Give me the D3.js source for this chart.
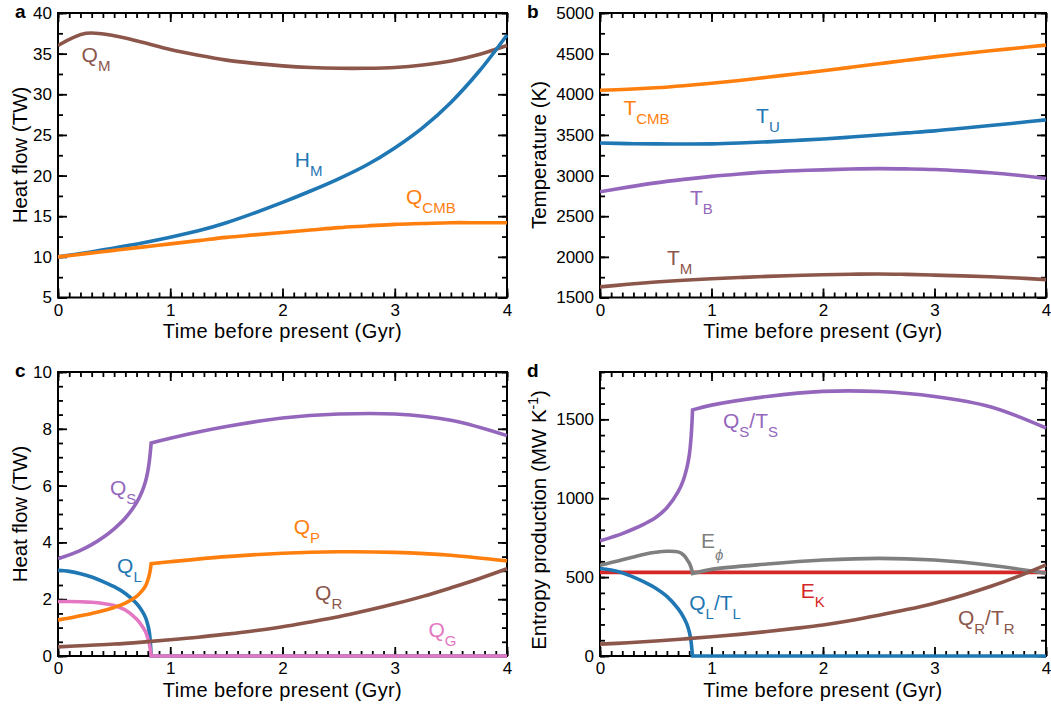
<!DOCTYPE html>
<html>
<head>
<meta charset="utf-8">
<title>Thermal evolution</title>
<script src="https://cdn.jsdelivr.net/npm/d3@7/dist/d3.min.js"></script>
<style>
  body { margin: 0; background: #fff; }
  svg { font-family: "Liberation Sans", Arial, Helvetica, sans-serif; }
</style>
</head>
<body>
<script>
// ---- data ----
var tFull = [0, 0.25, 0.5, 0.75, 1, 1.25, 1.5, 1.75, 2, 2.25, 2.5, 2.75, 3, 3.25, 3.5, 3.75, 4];

// panel a: heat flow (TW)
var qM   = [36.0, 37.5, 37.2, 36.4, 35.5, 34.8, 34.2, 33.8, 33.5, 33.3, 33.2, 33.2, 33.3, 33.6, 34.1, 34.9, 36.0];
var hM   = [10.0, 10.5, 11.1, 11.7, 12.4, 13.2, 14.2, 15.4, 16.7, 18.1, 19.6, 21.3, 23.4, 25.9, 29.0, 32.8, 37.3];
var qCMB = [10.0, 10.4, 10.8, 11.2, 11.6, 12.0, 12.4, 12.7, 13.0, 13.3, 13.6, 13.8, 14.0, 14.1, 14.2, 14.2, 14.2];

// panel b: temperature (K)
var tCMB = [4050, 4062, 4080, 4105, 4135, 4170, 4210, 4250, 4290, 4332, 4375, 4418, 4460, 4498, 4535, 4570, 4605];
var tU   = [3400, 3393, 3390, 3388, 3390, 3400, 3415, 3432, 3450, 3474, 3500, 3525, 3550, 3582, 3615, 3650, 3685];
var tB   = [2800, 2858, 2910, 2953, 2990, 3020, 3045, 3060, 3070, 3080, 3085, 3082, 3075, 3058, 3035, 3003, 2965];
var tM   = [1630, 1662, 1690, 1712, 1730, 1746, 1760, 1771, 1780, 1786, 1790, 1784, 1775, 1766, 1755, 1740, 1720];

// panels c, d: before / after inner-core nucleation (~0.83 Gyr)
var tPre  = [0, 0.1, 0.2, 0.3, 0.4, 0.5, 0.6, 0.7, 0.75, 0.78, 0.8, 0.815, 0.83];
var tPost = [0.83, 1, 1.5, 2, 2.5, 3, 3.5, 4];

// panel c: heat flow (TW)
var qSPre  = [3.42, 3.56, 3.72, 3.92, 4.17, 4.48, 4.86, 5.4, 5.8, 6.15, 6.5, 6.9, 7.5];
var qSPost = [7.5, 7.67, 8.08, 8.38, 8.52, 8.52, 8.3, 7.76];
var qLPre  = [3.02, 2.98, 2.9, 2.78, 2.62, 2.44, 2.2, 1.85, 1.58, 1.35, 1.1, 0.8, 0];
var qLPost = [0, 0, 0, 0, 0, 0, 0, 0];
var qGPre  = [1.92, 1.92, 1.91, 1.89, 1.85, 1.78, 1.62, 1.3, 1.05, 0.85, 0.62, 0.4, 0];
var qGPost = [0, 0, 0, 0, 0, 0, 0, 0];
var qPPre  = [1.27, 1.34, 1.42, 1.5, 1.59, 1.71, 1.86, 2.1, 2.3, 2.47, 2.67, 2.88, 3.25];
var qPPost = [3.25, 3.32, 3.5, 3.62, 3.67, 3.65, 3.55, 3.35];
var qR     = [0.32, 0.37, 0.42, 0.49, 0.57, 0.66, 0.77, 0.89, 1.03, 1.2, 1.38, 1.6, 1.84, 2.1, 2.4, 2.72, 3.07];

// panel d: entropy production (MW/K)
var sSPre  = [730, 752, 776, 805, 838, 878, 940, 1040, 1120, 1195, 1270, 1370, 1560];
var sSPost = [1560, 1590, 1645, 1677, 1676, 1645, 1580, 1445];
var ePhiPre  = [575, 592, 610, 628, 645, 657, 664, 660, 640, 612, 590, 565, 523];
var ePhiPost = [523, 549, 583, 608, 619, 608, 575, 524];
var sLPre  = [555, 545, 527, 500, 468, 430, 378, 300, 245, 200, 155, 100, 0];
var sLPost = [0, 0, 0, 0, 0, 0, 0, 0];
var eK     = [530, 530, 530, 530, 530, 530, 530, 530, 530, 530, 530, 530, 530, 530, 530, 530, 530];
var sR     = [75, 84, 95, 108, 122, 137, 155, 175, 197, 225, 258, 294, 335, 384, 440, 505, 578];

var xTicks = [0, 1, 2, 3, 4];

var c = {blue: "#1f77b4", orange: "#ff7f0e", brown: "#8c564b", purple: "#9467bd",
         pink: "#e377c2", gray: "#7f7f7f", red: "#d62728"};

var svg = d3.select("body").append("svg").attr("width", 1051).attr("height", 706);

function range(a, b, s) { return d3.range(a, b + s / 2, s); }

function panel(o) {
  var x = d3.scaleLinear().domain([0, 4]).range([o.left, o.right]);
  var y = d3.scaleLinear().domain(o.ydom).range([o.bottom, o.top]);
  var g = svg.append("g");
  var minorX = range(0, 4, 0.1), minorY = range(o.ydom[0], o.ydom[1], o.yminor);

  function ax(gen, tr, vals, size, fmt, pad) {
    var a = g.append("g").attr("transform", tr)
      .call(gen.tickValues(vals).tickSize(size).tickPadding(pad || 0).tickFormat(fmt || ""));
    a.select(".domain").remove();
    a.selectAll("line").attr("stroke-width", 1.8);
    a.selectAll("text").attr("font-size", 17).attr("fill", "#000")
      .attr("font-family", "Liberation Sans, Arial, sans-serif");
    return a;
  }
  var bt = "translate(0," + o.bottom + ")", tp = "translate(0," + o.top + ")";
  var lt = "translate(" + o.left + ",0)", rt = "translate(" + o.right + ",0)";
  ax(d3.axisBottom(x), bt, minorX, -5);
  ax(d3.axisTop(x), tp, minorX, -5);
  ax(d3.axisLeft(y), lt, minorY, -5);
  ax(d3.axisRight(y), rt, minorY, -5);
  ax(d3.axisBottom(x), bt, xTicks, -9, d3.format("d"), 6);
  ax(d3.axisTop(x), tp, xTicks, -9);
  ax(d3.axisLeft(y), lt, o.yticks, -9, d3.format("d"), 7).selectAll("text").attr("dx", 1);
  ax(d3.axisRight(y), rt, o.yticks, -9);

  g.append("rect").attr("x", o.left).attr("y", o.top)
    .attr("width", o.right - o.left).attr("height", o.bottom - o.top)
    .attr("fill", "none").attr("stroke", "#000").attr("stroke-width", 2);

  var line = d3.line().x(function (d) { return x(d[0]); }).y(function (d) { return y(d[1]); })
    .curve(d3.curveCatmullRom.alpha(0.5));
  var clip = "clip" + o.name;
  svg.append("clipPath").attr("id", clip).append("rect")
    .attr("x", o.left).attr("y", o.top - 3).attr("width", o.right - o.left + 3).attr("height", o.bottom - o.top + 6);
  var lines = g.append("g").attr("clip-path", "url(#" + clip + ")");

  o.series.forEach(function (s) {
    var d = "";
    s.parts.forEach(function (p, i) {
      var seg = line(p[0].map(function (t, k) { return [t, p[1][k]]; }));
      d += i === 0 ? seg : "L" + seg.slice(1);
    });
    lines.append("path").attr("d", d).attr("fill", "none").attr("stroke", s.color)
      .attr("stroke-width", 3.6).attr("stroke-linejoin", "miter");
  });

  o.labels.forEach(function (l) {
    var t = g.append("text").attr("x", x(l.at[0])).attr("y", y(l.at[1]))
      .attr("fill", l.color).attr("font-size", 21);
    var off = 0;
    l.parts.forEach(function (p) {
      var want = p.sub ? (p.dy || 9) : 0;
      var ts = t.append("tspan").text(p.t).attr("dy", want - off);
      if (p.sub) ts.attr("font-size", p.fs || 15);
      if (p.italic) ts.attr("font-style", "italic");
      off = want;
    });
  });

  g.append("text").attr("x", (o.left + o.right) / 2).attr("y", o.bottom + 40.5)
    .attr("text-anchor", "middle").attr("font-size", 20).attr("letter-spacing", 0.4)
    .text("Time before present (Gyr)");

  var yt = g.append("text").attr("text-anchor", "middle").attr("font-size", 20.5)
    .attr("transform", "translate(" + o.ytx + "," + o.yty + ") rotate(-90)");
  o.ytitle.forEach(function (p) {
    var ts = yt.append("tspan").text(p.t);
    if (p.sup) ts.attr("font-size", 14).attr("dy", -8);
    if (p.back) ts.attr("dy", 8);
  });

  g.append("text").attr("x", o.letterX).attr("y", o.top + 5).attr("font-size", 19)
    .attr("font-weight", "bold").text(o.name);
}

function sub(t, extra) { return Object.assign({t: t, sub: true}, extra || {}); }
function main(t) { return {t: t}; }

panel({
  name: "a", left: 58, right: 507, top: 13, bottom: 297.5, ydom: [5, 40],
  yticks: [5, 10, 15, 20, 25, 30, 35, 40], yminor: 2.5, letterX: 15,
  ytitle: [main("Heat flow (TW)")], ytx: 27, yty: 155,
  series: [
    {color: c.brown, parts: [[tFull, qM]]},
    {color: c.blue, parts: [[tFull, hM]]},
    {color: c.orange, parts: [[tFull, qCMB]]}
  ],
  labels: [
    {at: [0.21, 34.0], color: c.brown, parts: [main("Q"), sub("M")]},
    {at: [2.11, 21.0], color: c.blue, parts: [main("H"), sub("M")]},
    {at: [3.10, 16.55], color: c.orange, parts: [main("Q"), sub("CMB")]}
  ]
});

panel({
  name: "b", left: 600, right: 1046, top: 13, bottom: 297.5, ydom: [1500, 5000],
  yticks: [1500, 2000, 2500, 3000, 3500, 4000, 4500, 5000], yminor: 250, letterX: 527,
  ytitle: [main("Temperature (K)")], ytx: 546, yty: 155,
  series: [
    {color: c.orange, parts: [[tFull, tCMB]]},
    {color: c.blue, parts: [[tFull, tU]]},
    {color: c.purple, parts: [[tFull, tB]]},
    {color: c.brown, parts: [[tFull, tM]]}
  ],
  labels: [
    {at: [0.21, 3747], color: c.orange, parts: [main("T"), sub("CMB")]},
    {at: [1.40, 3649], color: c.blue, parts: [main("T"), sub("U")]},
    {at: [0.807, 2642], color: c.purple, parts: [main("T"), sub("B")]},
    {at: [0.60, 1905], color: c.brown, parts: [main("T"), sub("M")]}
  ]
});

panel({
  name: "c", left: 58, right: 507, top: 372, bottom: 656, ydom: [0, 10],
  yticks: [0, 2, 4, 6, 8, 10], yminor: 0.5, letterX: 15,
  ytitle: [main("Heat flow (TW)")], ytx: 27, yty: 514,
  series: [
    {color: c.purple, parts: [[tPre, qSPre], [tPost, qSPost]]},
    {color: c.blue, parts: [[tPre, qLPre], [tPost, qLPost]]},
    {color: c.pink, parts: [[tPre, qGPre], [tPost, qGPost]]},
    {color: c.brown, parts: [[tFull, qR]]},
    {color: c.orange, parts: [[tPre, qPPre], [tPost, qPPost]]}
  ],
  labels: [
    {at: [0.463, 5.67], color: c.purple, parts: [main("Q"), sub("S")]},
    {at: [0.526, 2.92], color: c.blue, parts: [main("Q"), sub("L")]},
    {at: [2.10, 4.30], color: c.orange, parts: [main("Q"), sub("P")]},
    {at: [2.29, 1.97], color: c.brown, parts: [main("Q"), sub("R")]},
    {at: [3.30, 0.67], color: c.pink, parts: [main("Q"), sub("G")]}
  ]
});

panel({
  name: "d", left: 600, right: 1046, top: 372, bottom: 656, ydom: [0, 1800],
  yticks: [0, 500, 1000, 1500], yminor: 100, letterX: 527,
  ytitle: [main("Entropy production (MW K"), {t: "-1", sup: true}, {t: ")", back: true}], ytx: 546, yty: 520,
  series: [
    {color: c.purple, parts: [[tPre, sSPre], [tPost, sSPost]]},
    {color: c.red, parts: [[tFull, eK]]},
    {color: c.gray, parts: [[tPre, ePhiPre], [tPost, ePhiPost]]},
    {color: c.blue, parts: [[tPre, sLPre], [tPost, sLPost]]},
    {color: c.brown, parts: [[tFull, sR]]}
  ],
  labels: [
    {at: [1.103, 1445], color: c.purple, parts: [main("Q"), sub("S"), main("/T"), sub("S")]},
    {at: [0.906, 684], color: c.gray, parts: [main("E"), sub("\u03d5", {dy: 12, italic: true})]},
    {at: [1.80, 368], color: c.red, parts: [main("E"), sub("K")]},
    {at: [0.80, 291], color: c.blue, parts: [main("Q"), sub("L"), main("/T"), sub("L")]},
    {at: [3.21, 196], color: c.brown, parts: [main("Q"), sub("R"), main("/T"), sub("R")]}
  ]
});
</script>
</body>
</html>
